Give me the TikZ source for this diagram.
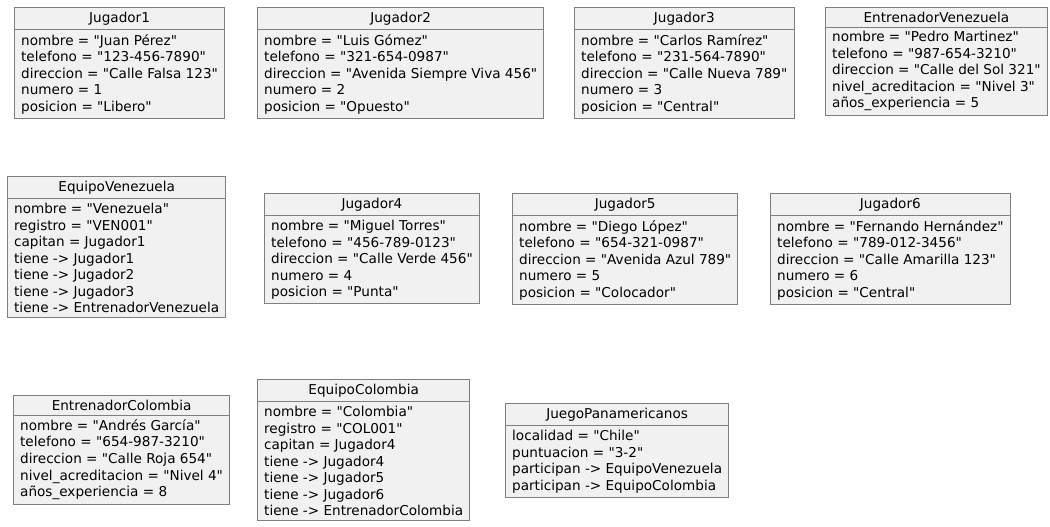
\documentclass[tikz,border=0pt]{standalone}
\usepackage{fontspec}
\setmainfont{DejaVu Sans}[Ligatures=TeXOff]
\usetikzlibrary{shapes.multipart}
\definecolor{fondo}{HTML}{F1F1F1}
\definecolor{borde}{HTML}{7F7F7F}
\tikzset{
  objeto/.style={rectangle split,rectangle split parts=2,
    rectangle split part align={center,left},draw=borde,fill=fondo,
    line width=0.75pt,align=left,inner xsep=5pt,inner ysep=3pt,
    anchor=north west,font=\fontsize{10.2}{12.4}\selectfont},
}
\begin{document}
\begin{tikzpicture}[x=0.75pt,y=-0.75pt]
  \path[fill=white,use as bounding box] (0,0) rectangle (1050,527);
  % fila de arriba
  \node[objeto] (jugador1) at (14,7) {Jugador1\nodepart{two}nombre = "Juan Pérez"\\telefono = "123-456-7890"\\direccion = "Calle Falsa 123"\\numero = 1\\posicion = "Libero"};
  \node[objeto] (jugador2) at (257,7) {Jugador2\nodepart{two}nombre = "Luis Gómez"\\telefono = "321-654-0987"\\direccion = "Avenida Siempre Viva 456"\\numero = 2\\posicion = "Opuesto"};
  \node[objeto] (jugador3) at (574,7) {Jugador3\nodepart{two}nombre = "Carlos Ramírez"\\telefono = "231-564-7890"\\direccion = "Calle Nueva 789"\\numero = 3\\posicion = "Central"};
  \node[objeto] (entrenadorV) at (825,7) {EntrenadorVenezuela\nodepart{two}nombre = "Pedro Martinez"\\telefono = "987-654-3210"\\direccion = "Calle del Sol 321"\\nivel\_acreditacion = "Nivel 3"\\años\_experiencia = 5};
  % fila del medio
  \node[objeto] (equipoV) at (7,176) {EquipoVenezuela\nodepart{two}nombre = "Venezuela"\\registro = "VEN001"\\capitan = Jugador1\\tiene -> Jugador1\\tiene -> Jugador2\\tiene -> Jugador3\\tiene -> EntrenadorVenezuela};
  \node[objeto] (jugador4) at (264,193) {Jugador4\nodepart{two}nombre = "Miguel Torres"\\telefono = "456-789-0123"\\direccion = "Calle Verde 456"\\numero = 4\\posicion = "Punta"};
  \node[objeto] (jugador5) at (512,193) {Jugador5\nodepart{two}nombre = "Diego López"\\telefono = "654-321-0987"\\direccion = "Avenida Azul 789"\\numero = 5\\posicion = "Colocador"};
  \node[objeto] (jugador6) at (770,193) {Jugador6\nodepart{two}nombre = "Fernando Hernández"\\telefono = "789-012-3456"\\direccion = "Calle Amarilla 123"\\numero = 6\\posicion = "Central"};
  % fila de abajo
  \node[objeto] (entrenadorC) at (13,395) {EntrenadorColombia\nodepart{two}nombre = "Andrés García"\\telefono = "654-987-3210"\\direccion = "Calle Roja 654"\\nivel\_acreditacion = "Nivel 4"\\años\_experiencia = 8};
  \node[objeto] (equipoC) at (257,379) {EquipoColombia\nodepart{two}nombre = "Colombia"\\registro = "COL001"\\capitan = Jugador4\\tiene -> Jugador4\\tiene -> Jugador5\\tiene -> Jugador6\\tiene -> EntrenadorColombia};
  \node[objeto] (juego) at (505,403) {JuegoPanamericanos\nodepart{two}localidad = "Chile"\\puntuacion = "3-2"\\participan -> EquipoVenezuela\\participan -> EquipoColombia};
\end{tikzpicture}
\end{document}
